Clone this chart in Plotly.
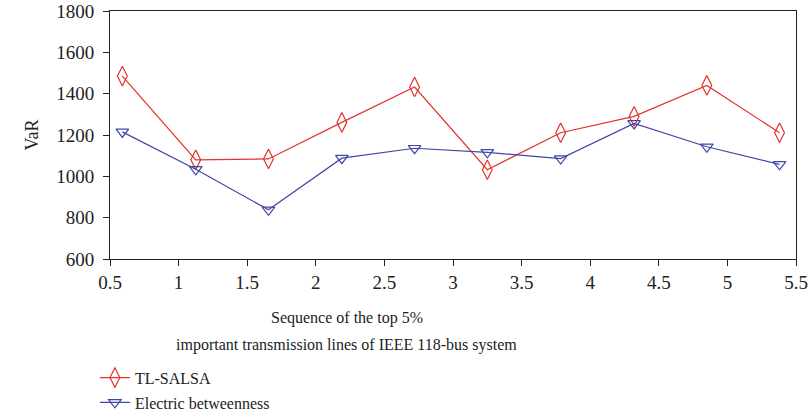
import plotly.graph_objects as go

x_vals = [0.59, 1.125, 1.655, 2.19, 2.72, 3.25, 3.785, 4.32, 4.85, 5.38]
tl_salsa = [1485, 1080, 1084, 1261, 1432, 1032, 1211, 1290, 1440, 1211]
electric_betweenness = [1215, 1034, 838, 1088, 1136, 1116, 1086, 1256, 1143, 1058]
x_ticks = [0.5, 1, 1.5, 2, 2.5, 3, 3.5, 4, 4.5, 5, 5.5]
x_tick_labels = ["0.5", "1", "1.5", "2", "2.5", "3", "3.5", "4", "4.5", "5", "5.5"]
y_ticks = [600, 800, 1000, 1200, 1400, 1600, 1800]
x_title_lines = ["Sequence of the top 5%", "important transmission lines of IEEE 118-bus system"]

RED = "#e4322b"
BLUE = "#4146a6"
FONT = "Liberation Serif"
TXT = "#222"

fig = go.Figure()
fig.add_trace(go.Scatter(
    x=x_vals, y=tl_salsa, mode="lines+markers", name="TL-SALSA", legendgroup="a",
    line=dict(color=RED, width=1.2),
    marker=dict(symbol="diamond-tall-open", size=14, color=RED, line=dict(width=1.2)),
))
fig.add_trace(go.Scatter(
    x=x_vals, y=electric_betweenness, mode="lines+markers", name="Electric betweenness",
    legendgroup="b",
    line=dict(color=BLUE, width=1.2),
    marker=dict(symbol="triangle-down-open", size=11, color=BLUE, line=dict(width=1.2)),
))

axis_common = dict(
    showline=True, linecolor="#222", linewidth=1, mirror=True,
    ticks="outside", ticklen=6, tickcolor="#222", tickwidth=1,
    showgrid=False, zeroline=False,
    tickfont=dict(family=FONT, size=19, color=TXT),
)

fig.update_layout(
    width=809, height=419,
    margin=dict(l=110, r=13, t=11, b=160, autoexpand=False),
    paper_bgcolor="white", plot_bgcolor="white",
    font=dict(family=FONT, size=16, color=TXT),
    xaxis=dict(range=[0.5, 5.5], tickvals=x_ticks, ticktext=x_tick_labels, **axis_common),
    yaxis=dict(range=[600, 1800], tickvals=y_ticks, ticklabelstandoff=5,
               title=dict(text="VaR", font=dict(family=FONT, size=18, color=TXT), standoff=12),
               **axis_common),
    legend=dict(x=-0.022, xanchor="left", y=-0.41, yanchor="top",
                bgcolor="rgba(0,0,0,0)", font=dict(family=FONT, size=16, color=TXT),
                tracegroupgap=1, itemwidth=30),
    showlegend=True,
)

for txt, ypos in zip(x_title_lines, [-0.238, -0.347]):
    fig.add_annotation(text=txt, xref="paper", yref="paper", x=0.345, y=ypos,
                       xanchor="center", yanchor="middle", showarrow=False,
                       font=dict(family=FONT, size=16, color=TXT))

fig.write_html("out.html", config={"displayModeBar": False},
               post_script="document.body.style.margin='0';")
